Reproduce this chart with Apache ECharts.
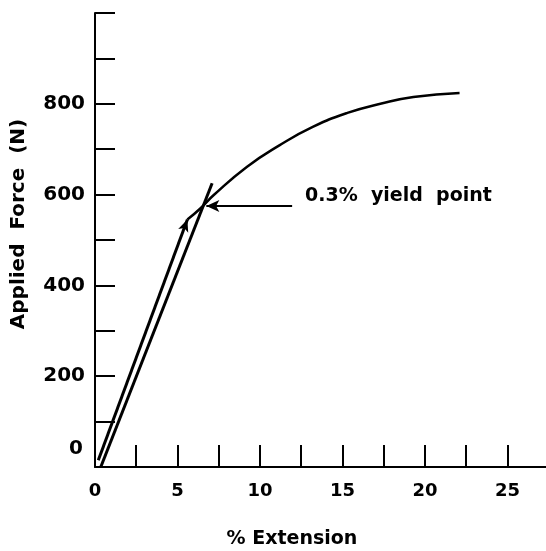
<!DOCTYPE html>
<html lang="en">

<head>
  <meta charset="UTF-8">
  <title>Applied Force vs Extension</title>
  <style>
    html, body { margin: 0; padding: 0; background: #fff; }
    #main { width: 546px; height: 551px; }
  </style>
</head>

<body>
  <div id="main"></div>

  <script src="https://cdn.jsdelivr.net/npm/echarts@6/dist/echarts.min.js"></script>
  <script>
    // 数据
    var leftLineX = [0.2, 5.6];
    var leftLineY = [15, 545];

    var rightLineX = [0.35, 7.1];
    var rightLineY = [0, 625];

    var curveX = [5.6, 6.4, 7.2, 9.2, 11.2, 13.2, 15.3, 17.3, 19.3, 22.1];
    var curveY = [545, 570, 599, 661, 709, 749, 780, 800, 815, 824];

    // 箭头 + 文字
    var arrowX = [11.95, 6.75];
    var arrowY = [575, 575];
    var noteX = [12.7];
    var noteY = [596];
    var noteText = ['0.3%  yield  point'];

    var xLabels = [0, 5, 10, 15, 20, 25];
    var yLabels = [0, 200, 400, 600, 800];

    var ink = '#000';
    var font = 'DejaVu Sans';

    function pairs(xs, ys) {
      return xs.map(function (x, i) { return [x, ys[i]]; });
    }

    var myChart = echarts.init(document.getElementById('main'));

    myChart.setOption({
      backgroundColor: '#fff',
      animation: false,
      grid: { left: 95, top: 13, width: 452, height: 454, outerBoundsMode: 'none', containLabel: false },
      xAxis: {
        type: 'value',
        min: 0,
        max: 27.4,
        interval: 2.5,
        name: '% Extension',
        nameLocation: 'middle',
        nameGap: 63,
        nameTextStyle: {
          color: ink, fontFamily: font, fontWeight: 'bold', fontSize: 19,
          padding: [0, 58, 0, 0]
        },
        axisLine: { lineStyle: { color: ink, width: 2 } },
        axisTick: { inside: true, length: 22, lineStyle: { color: ink, width: 2 } },
        splitLine: { show: false },
        axisLabel: {
          color: ink, fontFamily: font, fontWeight: 'bold', fontSize: 18, margin: 15,
          formatter: function (v) {
            return xLabels.indexOf(v) >= 0 ? String(v) : '';
          }
        }
      },
      yAxis: {
        type: 'value',
        min: 0,
        max: 1000,
        interval: 100,
        name: 'Applied  Force  (N)',
        nameLocation: 'middle',
        nameRotate: 90,
        nameGap: 66,
        nameTextStyle: {
          color: ink, fontFamily: font, fontWeight: 'bold', fontSize: 20,
          padding: [0, 0, 0, 32]
        },
        axisLine: { lineStyle: { color: ink, width: 2 } },
        axisTick: { inside: true, length: 20, lineStyle: { color: ink, width: 2 } },
        splitLine: { show: false },
        axisLabel: {
          color: ink, fontFamily: font, fontWeight: 'bold', fontSize: 20, margin: 10,
          formatter: function (v) {
            if (v === 0) return '{z|0}';
            return yLabels.indexOf(v) >= 0 ? String(v) : '';
          },
          rich: {
            z: { color: ink, fontFamily: font, fontWeight: 'bold', fontSize: 20, padding: [0, 2, 36, 0] }
          }
        }
      },
      series: [
        {
          // 左边的直线（带箭头）
          type: 'line',
          data: [],
          markLine: {
            silent: true,
            symbol: ['none', 'arrow'],
            symbolSize: [8, 12],
            label: { show: false },
            lineStyle: { color: ink, width: 3, type: 'solid' },
            data: [[{ coord: [leftLineX[0], leftLineY[0]] }, { coord: [leftLineX[1], leftLineY[1]] }]]
          }
        },
        {
          // 0.3% 偏移线
          type: 'line',
          data: pairs(rightLineX, rightLineY),
          symbol: 'none',
          lineStyle: { color: ink, width: 3 }
        },
        {
          // 曲线
          type: 'line',
          data: pairs(curveX, curveY),
          smooth: true,
          symbol: 'none',
          lineStyle: { color: ink, width: 2.5 }
        },
        {
          // 屈服点箭头
          type: 'line',
          data: [],
          markLine: {
            silent: true,
            symbol: ['none', 'arrow'],
            symbolSize: [9, 13],
            label: { show: false },
            lineStyle: { color: ink, width: 2, type: 'solid' },
            data: [[{ coord: [arrowX[0], arrowY[0]] }, { coord: [arrowX[1], arrowY[1]] }]]
          }
        },
        {
          type: 'scatter',
          data: pairs(noteX, noteY),
          symbolSize: 1,
          itemStyle: { color: '#fff', opacity: 1 },
          label: {
            show: true,
            position: 'right',
            distance: 0,
            color: ink,
            opacity: 1,
            fontFamily: font,
            fontWeight: 'bold',
            fontSize: 19,
            formatter: function (p) { return noteText[p.dataIndex]; }
          }
        }
      ]
    });
  </script>
</body>

</html>
